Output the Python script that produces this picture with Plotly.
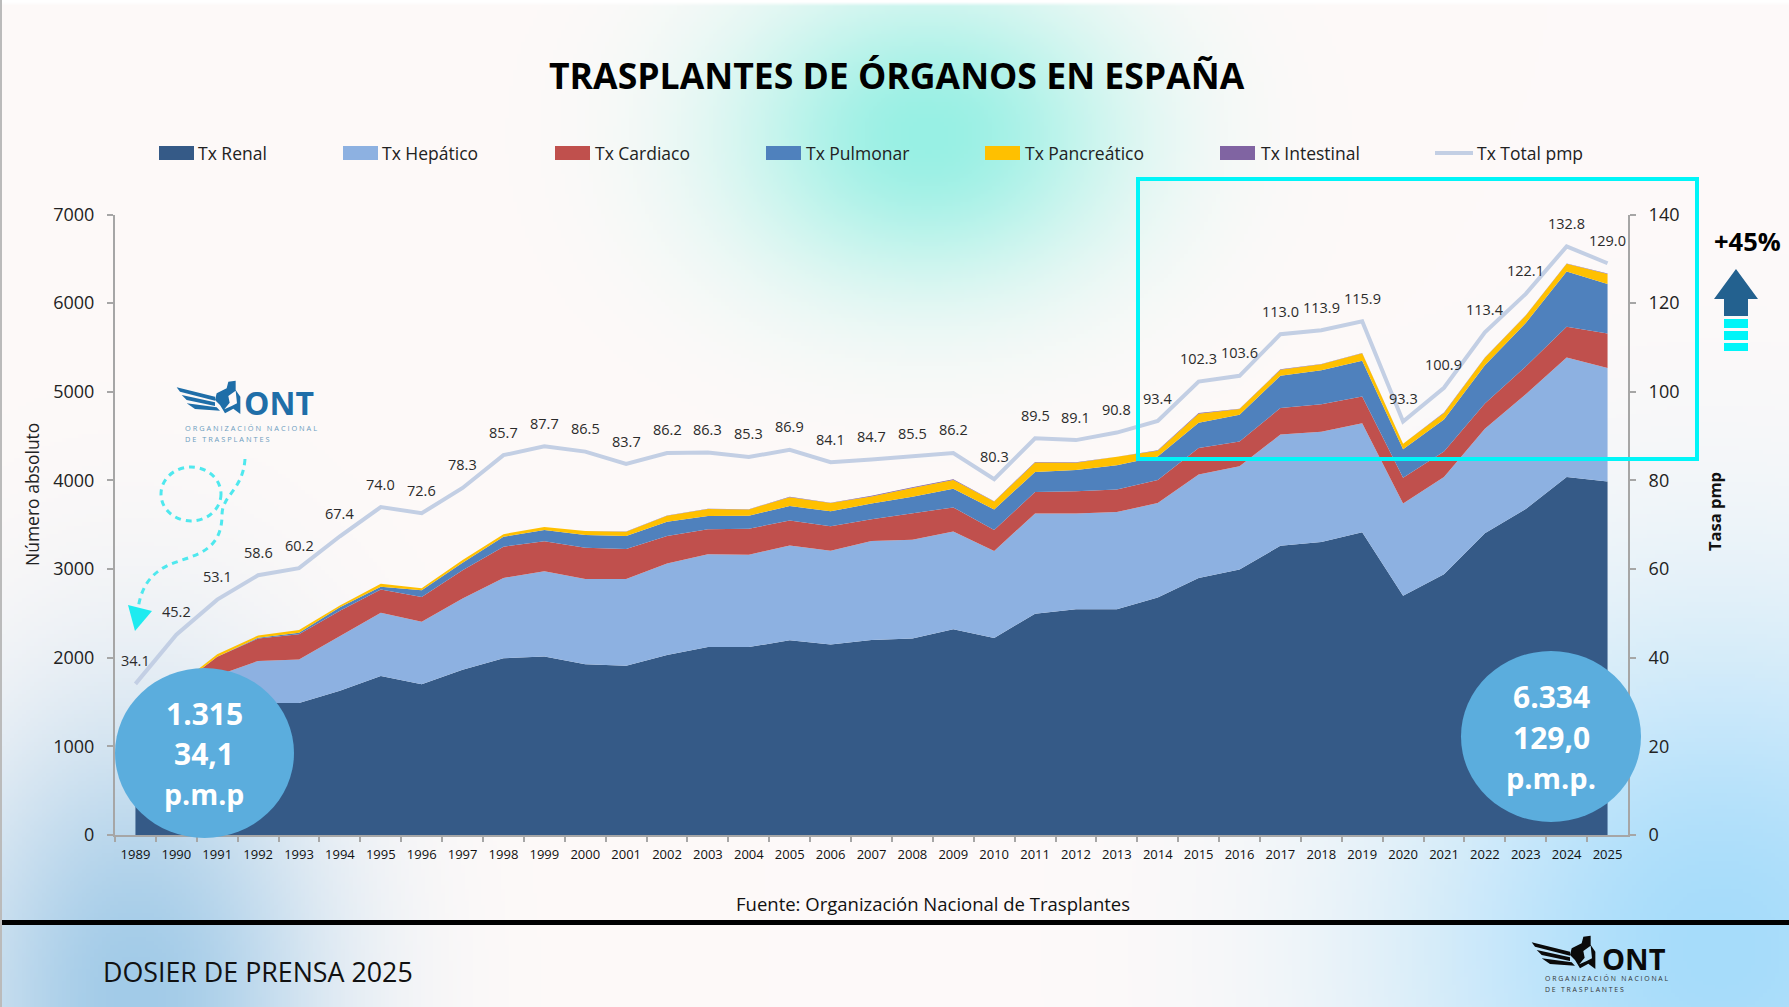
import base64, struct, zlib
import numpy as np
import plotly.graph_objects as go

W, H = 1789, 1007

years = [str(y) for y in range(1989, 2026)]
renal = [1021,1248,1357,1490,1490,1627,1793,1702,1863,1994,2014,1925,1910,2030,2120,2120,2196,2150,2200,2218,2320,2222,2497,2546,2546,2678,2900,2994,3263,3305,3414,2699,2942,3403,3678,4040,3989]
hepatico = [169,313,443,474,489,613,715,705,806,906,962,963,978,1034,1046,1042,1071,1057,1116,1113,1105,982,1131,1082,1097,1067,1166,1166,1254,1243,1232,1041,1098,1181,1295,1347,1279]
cardiaco = [81,97,210,252,287,290,262,277,317,353,338,353,338,309,282,293,282,275,245,294,271,236,241,249,256,259,301,279,300,311,301,290,285,285,311,347,389]
pulmonar = [0,0,0,10,15,40,30,76,84,111,126,143,147,161,150,147,162,169,180,191,211,233,226,240,271,266,285,301,363,384,404,321,363,430,492,622,559]
pancreatico = [44,15,30,25,31,20,35,25,32,30,35,45,49,68,79,71,100,93,78,98,97,88,108,83,94,66,100,66,68,67,83,64,74,84,84,89,114]
intestinal = [0,0,0,0,0,0,0,0,0,0,0,0,1,3,3,3,5,4,8,10,10,5,5,4,3,4,8,4,5,4,3,0,3,4,4,3,4]
total_pmp = [34.1,45.2,53.1,58.6,60.2,67.4,74.0,72.6,78.3,85.7,87.7,86.5,83.7,86.2,86.3,85.3,86.9,84.1,84.7,85.5,86.2,80.3,89.5,89.1,90.8,93.4,102.3,103.6,113.0,113.9,115.9,93.3,100.9,113.4,122.1,132.8,129.0]

names = ["Tx Renal", "Tx Hepático", "Tx Cardiaco", "Tx Pulmonar", "Tx Pancreático", "Tx Intestinal"]
colors = ["#355A87", "#8DB1E1", "#C0504D", "#4F81BD", "#FFC000", "#8064A2"]
series = [renal, hepatico, cardiaco, pulmonar, pancreatico, intestinal]
LINE = "#C3CFE4"
CYAN = "#00F5F8"
FONT = "Open Sans"


def background():
    w, h = 448, 252
    yy, xx = np.mgrid[0:h, 0:w]
    x = (xx + .5) * W / w
    y = (yy + .5) * H / h
    img = np.ones((h, w, 3)) * np.array([254, 250, 249.])

    def blend(col, a):
        nonlocal img
        a = np.clip(a, 0, 1)[..., None]
        img = img * (1 - a) + np.array(col, float) * a

    blend((152, 240, 228), np.exp(-(((x - 928) / 195) ** 2 + ((y - 135) / 150) ** 2)))
    blend((162, 203, 232), np.exp(-(((x - 135) / 190) ** 2 + ((y - 1000) / 290) ** 2)))
    blend((166, 220, 251), np.exp(-(((x - 1720) / 320) ** 2 + ((y - 950) / 330) ** 2)))
    img[y < 3] = 255
    data = np.clip(img, 0, 255).astype(np.uint8)
    raw = b"".join(b"\x00" + data[i].tobytes() for i in range(h))

    def chunk(t, d):
        c = struct.pack(">I", len(d)) + t + d
        return c + struct.pack(">I", zlib.crc32(t + d) & 0xffffffff)

    png = b"\x89PNG\r\n\x1a\n" + chunk(b"IHDR", struct.pack(">IIBBBBB", w, h, 8, 2, 0, 0, 0)) + chunk(b"IDAT", zlib.compress(raw)) + chunk(b"IEND", b"")
    return "data:image/png;base64," + base64.b64encode(png).decode()


def px(x):
    return x / W


def py(y):
    return 1 - y / H


def path(points, close=True):
    d = "M " + " L ".join(f"{px(a):.5f},{py(b):.5f}" for a, b in points)
    return d + (" Z" if close else "")


shapes = []
annotations = []


def rect(x0, y0, x1, y1, fill=None, line=None, lw=0):
    shapes.append(dict(type="rect", xref="paper", yref="paper", x0=px(x0), x1=px(x1), y0=py(y0), y1=py(y1),
                       fillcolor=fill if fill else "rgba(0,0,0,0)", line=dict(color=line or "rgba(0,0,0,0)", width=lw)))


def poly(points, fill):
    shapes.append(dict(type="path", xref="paper", yref="paper", path=path(points), fillcolor=fill, line=dict(width=0)))


def ellipse(x0, y0, x1, y1, fill=None, line=None, lw=0, dash=None):
    shapes.append(dict(type="circle", xref="paper", yref="paper", x0=px(x0), x1=px(x1), y0=py(y0), y1=py(y1),
                       fillcolor=fill if fill else "rgba(0,0,0,0)",
                       line=dict(color=line or "rgba(0,0,0,0)", width=lw, dash=dash or "solid")))


def text(x, y, s, size, color="#222222", anchor="left", bold=False, angle=0, font=FONT):
    annotations.append(dict(xref="paper", yref="paper", x=px(x), y=py(y), text=f"<b>{s}</b>" if bold else s,
                            showarrow=False, xanchor=anchor, yanchor="middle", textangle=angle, borderpad=0,
                            font=dict(family=font, size=size, color=color)))


def logo(x0, y0, color, subcolor, l1, l2, onttx, ontsize, cut, subsize):
    def c(pts):
        return [(x0 + a / 3, y0 + b / 3) for a, b in pts]
    poly(c([(35, 52), (150, 80), (150, 92), (45, 65)]), color)
    poly(c([(50, 75), (150, 97), (150, 108), (65, 90)]), color)
    poly(c([(65, 100), (155, 112), (165, 122), (90, 117)]), color)
    poly(c([(155, 70), (185, 55), (190, 35), (212, 32), (212, 60), (226, 80), (226, 132), (205, 116), (180, 130), (165, 105), (150, 90)]), color)
    poly(c([(190, 78), (212, 62), (216, 100), (200, 108), (178, 118), (194, 98)]), cut)
    text(x0 + onttx, y0 + 33, "ONT", ontsize, color, bold=True, anchor="left")
    text(x0 + l1[0], y0 + l1[1], l1[2], subsize, subcolor)
    text(x0 + l2[0], y0 + l2[1], l2[2], subsize, subcolor)


fig = go.Figure()
for name, col, vals in zip(names, colors, series):
    fig.add_trace(go.Scatter(x=years, y=vals, name=name, stackgroup="one", mode="lines",
                             line=dict(width=0, color=col), fillcolor=col, showlegend=False))
fig.add_trace(go.Scatter(x=years, y=total_pmp, name="Tx Total pmp", yaxis="y2", mode="lines",
                         line=dict(color=LINE, width=4), showlegend=False))

for i, v in enumerate(total_pmp):
    annotations.append(dict(x=i, y=v, xref="x", yref="y2", text=f"{v:.1f}", showarrow=False, yshift=23,
                            font=dict(family=FONT, size=14.5, color="#2B2B2B")))

# legend
sw = [159, 343, 555, 766, 985, 1220]
tx = [197, 381, 594, 805, 1024, 1260]
for s, t, n, c in zip(sw, tx, names, colors):
    rect(s, 146, s + 35, 160, fill=c)
    text(t, 153, n, 17.5)
shapes.append(dict(type="line", xref="paper", yref="paper", x0=px(1435), x1=px(1473), y0=py(153), y1=py(153),
                   line=dict(color=LINE, width=4)))
text(1476, 153, "Tx Total pmp", 17.5)

text(897, 75, "TRASPLANTES DE ÓRGANOS EN ESPAÑA", 35.6, "#000000", anchor="center", bold=True)
text(32, 495, "Número absoluto", 17.5, angle=-90, anchor="center")
text(1714, 512, "Tasa pmp", 16.5, "#111111", angle=-90, anchor="center", bold=True)
text(933, 903, "Fuente: Organización Nacional de Trasplantes", 18.5, "#111111", anchor="center")
text(102, 971, "DOSIER DE PRENSA 2025", 26.8, "#111111")

# highlight box and growth arrow
rect(1138, 179, 1697, 459, line=CYAN, lw=4)
text(1747, 241, "+45%", 25.5, "#000000", anchor="center", bold=True)
poly([(1736, 269), (1758, 299), (1748, 299), (1748, 316), (1724, 316), (1724, 299), (1714, 299)], "#23618F")
rect(1724, 319, 1748, 328, fill=CYAN)
rect(1724, 331, 1748, 340, fill=CYAN)
rect(1724, 343, 1748, 351, fill=CYAN)

# bubbles
ellipse(115, 668, 294, 838, fill="#5BADDD")
for yy, s, fs in zip([713, 753, 794], ["1.315", "34,1", "p.m.p"], [30, 30, 28.5]):
    text(204, yy, s, fs, "#FFFFFF", anchor="center", bold=True)
ellipse(1461, 651, 1641, 822, fill="#5BADDD")
for yy, s, fs in zip([696, 737, 777], ["6.334", "129,0", "p.m.p."], [30, 30, 29]):
    text(1551, yy, s, fs, "#FFFFFF", anchor="center", bold=True)

# dashed doodle
ellipse(161, 467, 221, 521, line="#4FE8EE", lw=3, dash="6px,5px")
shapes.append(dict(type="path", xref="paper", yref="paper",
                   path=f"M {px(245):.5f},{py(459):.5f} C {px(243):.5f},{py(490):.5f} {px(222):.5f},{py(495):.5f} {px(222):.5f},{py(515):.5f} "
                        f"C {px(222):.5f},{py(560):.5f} {px(180):.5f},{py(555):.5f} {px(160):.5f},{py(570):.5f} "
                        f"C {px(145):.5f},{py(580):.5f} {px(140):.5f},{py(595):.5f} {px(138):.5f},{py(609):.5f}",
                   line=dict(color="#4FE8EE", width=3, dash="6px,5px")))
poly([(128, 605), (152, 611), (135, 631)], "#1EEBF0")

# logos and frame
logo(165, 370, "#1F6EA8", "#6C9DBF", (19, 58, "O R G A N I Z A C I Ó N   N A C I O N A L"), (19, 69, "D E   T R A S P L A N T E S"), 78, 32, "#FDF8F8", 7.4)
logo(1520, 925, "#0A0A0A", "#333333", (24, 53, "O R G A N I Z A C I Ó N   N A C I O N A L"), (24, 64, "D E   T R A S P L A N T E S"), 81, 29, "#B5E0F8", 6.9)
rect(2, 920, W, 925, fill="#000000")
rect(0, 0, 2, H, fill="#BBBBBB")

axis_col = "#A6A6A6"
fig.update_layout(
    width=W, height=H, margin=dict(l=0, r=0, t=0, b=0, autoexpand=False), autosize=False,
    paper_bgcolor="#FEFAF9", plot_bgcolor="rgba(0,0,0,0)", showlegend=False, hovermode=False,
    font=dict(family=FONT, color="#222222"),
    images=[dict(source=background(), xref="paper", yref="paper", x=0, y=1, sizex=1, sizey=1,
                 sizing="stretch", xanchor="left", yanchor="top", layer="below")],
    xaxis=dict(domain=[px(115), px(1628)], type="category", range=[-0.5, 36.5], tickson="boundaries",
               showgrid=False, zeroline=False, showline=True, linecolor=axis_col, linewidth=2,
               ticks="outside", ticklen=5, tickcolor=axis_col, tickwidth=1.5, tickangle=0, ticklabelstandoff=6,
               tickmode="array", tickvals=years, ticktext=years, tickfont=dict(size=13, color="#111111")),
    yaxis=dict(domain=[py(835), py(214.5)], range=[0, 7000], dtick=1000, showgrid=False, zeroline=False,
               showline=True, linecolor=axis_col, linewidth=2, ticks="outside", ticklen=6, tickcolor=axis_col,
               tickwidth=1.5, ticklabelstandoff=9, tickfont=dict(size=18, color="#222222")),
    yaxis2=dict(overlaying="y", side="right", range=[0, 140], dtick=20, showgrid=False, zeroline=False,
                showline=True, linecolor=axis_col, linewidth=2, ticks="outside", ticklen=6, tickcolor=axis_col,
                tickwidth=1.5, ticklabelstandoff=9, tickfont=dict(size=18, color="#222222")),
    shapes=shapes, annotations=annotations,
)
fig.write_html("out.html", config=dict(displayModeBar=False),
               post_script="document.body.style.margin='0';document.body.style.overflow='hidden';")
